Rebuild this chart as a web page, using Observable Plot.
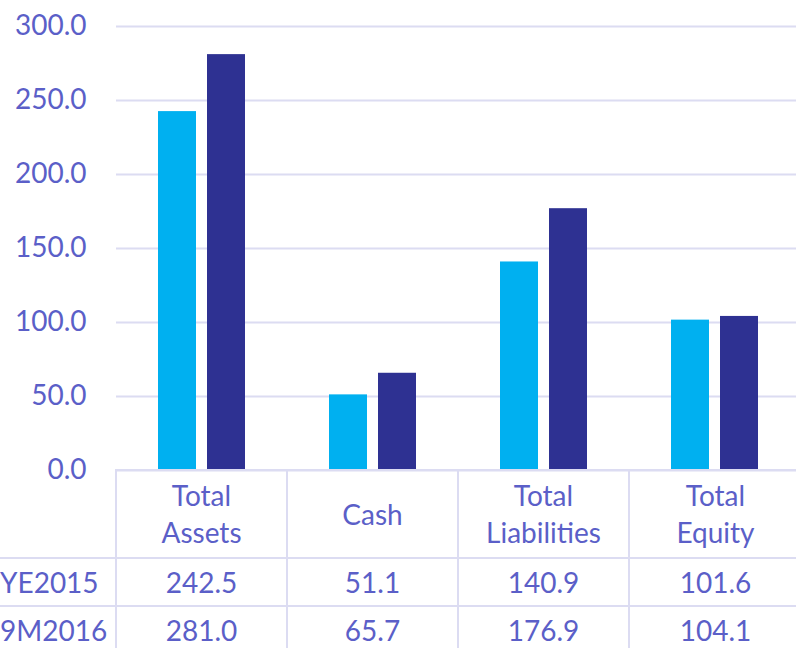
<!DOCTYPE html>
<html>
<head>
<meta charset="utf-8">
<script src="https://cdn.jsdelivr.net/npm/d3@7"></script>
<script src="https://cdn.jsdelivr.net/npm/@observablehq/plot@0.6"></script>
<style>
  html, body { margin: 0; padding: 0; background: #fff; overflow: hidden; }
  #wrap { position: relative; width: 796px; height: 648px; overflow: hidden; font-family: Lato, "Open Sans", sans-serif; color: #5B5FC8; }
  #chart { position: absolute; left: 0; top: 0; width: 800px; }
  #chart svg { max-width: none !important; }
  #tbl { position: absolute; left: 0; top: 469px; width: 802px; min-width: 802px; border-collapse: collapse; table-layout: fixed; font-size: 28px; }
  #tbl td { border: 2px solid #DCDCF2; text-align: center; padding: 0; white-space: pre-line; }
  #tbl td.lab { text-align: left; border-left: none; }
  #tbl tr.head td { height: 86px; line-height: 37px; }
  #tbl tr.head td.lab { border: none; border-right: 2px solid #DCDCF2; }
  #tbl tr.row td { height: 46px; }
</style>
</head>
<body>
<div id="wrap">
  <div id="chart"></div>
  <table id="tbl"></table>
</div>
<script>
const categories = ["Total Assets", "Cash", "Total Liabilities", "Total Equity"];
const categoryLabels = ["Total\nAssets", "Cash", "Total\nLiabilities", "Total\nEquity"];
const seriesNames = ["YE2015", "9M2016"];
const ye2015 = [242.5, 51.1, 140.9, 101.6];
const m9_2016 = [281.0, 65.7, 176.9, 104.1];
const yTicks = [0, 50, 100, 150, 200, 250, 300];
const seriesColors = ["#00B0F0", "#2E3192"];

const seriesValues = [ye2015, m9_2016];
const data = [];
categories.forEach((c, i) => {
  seriesNames.forEach((s, j) => data.push({category: c, series: s, value: seriesValues[j][i]}));
});

const chart = Plot.plot({
  width: 800,
  height: 490,
  marginLeft: 116,
  marginRight: 0,
  marginTop: 26,
  marginBottom: 20,
  style: {fontFamily: "Lato, 'Open Sans', sans-serif", fontSize: "28px", color: "#5B5FC8", background: "transparent", overflow: "visible", maxWidth: "none"},
  fx: {domain: categories, padding: 0, axis: null},
  x: {domain: seriesNames, paddingInner: 11 / 49, paddingOuter: 0.857, axis: null},
  y: {domain: [0, 300], ticks: yTicks, tickFormat: d3.format(".1f"), tickSize: 0, tickPadding: 30, label: null},
  color: {domain: seriesNames, range: seriesColors},
  marks: [
    Plot.ruleY(yTicks, {stroke: "#DCDCF2", strokeWidth: 2}),
    Plot.barY(data, {fx: "category", x: "series", y: "value", fill: "series"})
  ]
});
document.getElementById("chart").appendChild(chart);

// data table below the plot
const tbl = document.getElementById("tbl");
const colg = document.createElement("colgroup");
[116, 171, 171, 171, 173].forEach(w => {
  const c = document.createElement("col"); c.style.width = w + "px"; colg.appendChild(c);
});
tbl.appendChild(colg);
const head = document.createElement("tr"); head.className = "head";
const h0 = document.createElement("td"); h0.className = "lab"; head.appendChild(h0);
categoryLabels.forEach(l => { const td = document.createElement("td"); td.textContent = l; head.appendChild(td); });
tbl.appendChild(head);
seriesNames.forEach((s, j) => {
  const tr = document.createElement("tr"); tr.className = "row";
  const l = document.createElement("td"); l.className = "lab"; l.textContent = s; tr.appendChild(l);
  seriesValues[j].forEach(v => { const td = document.createElement("td"); td.textContent = d3.format(".1f")(v); tr.appendChild(td); });
  tbl.appendChild(tr);
});
</script>
</body>
</html>
